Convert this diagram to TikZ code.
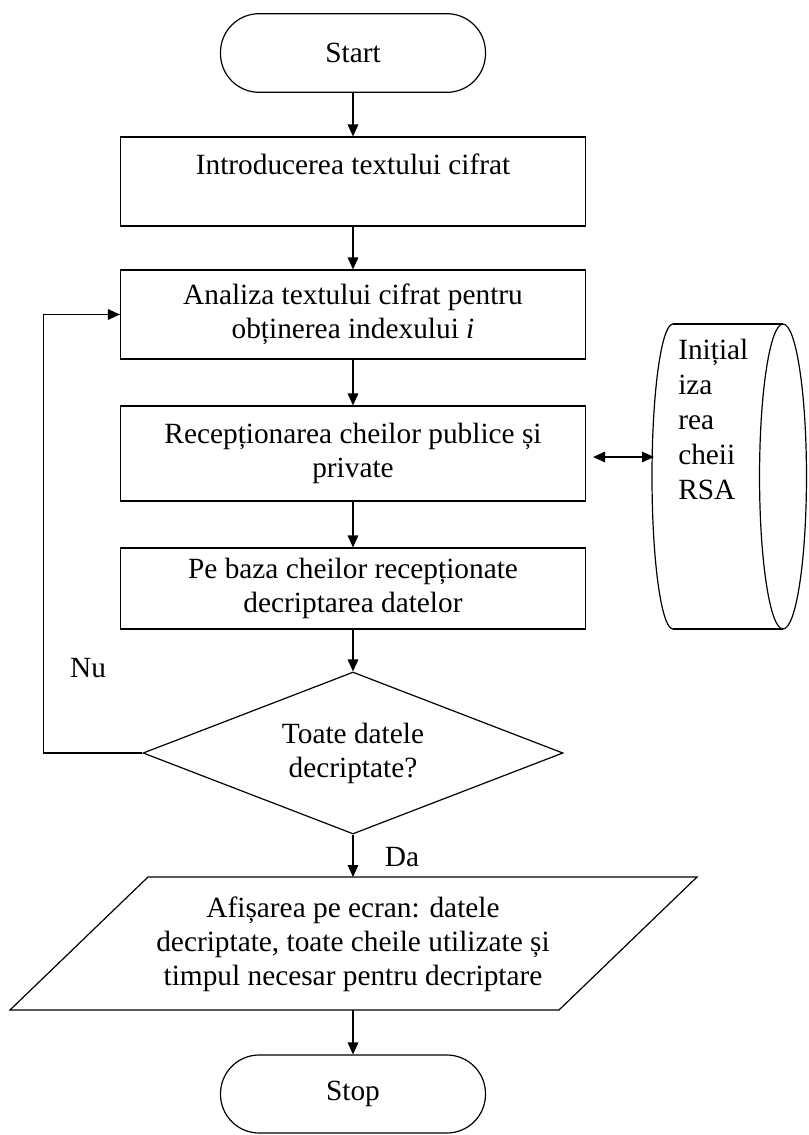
\documentclass[tikz,border=0pt]{standalone}
\usepackage{fontspec}
\setmainfont{Liberation Serif}
\usetikzlibrary{arrows.meta,shapes.geometric}
\begin{document}
\begin{tikzpicture}[x=0.75pt,y=-0.75pt,
  every node/.style={font=\fontsize{22}{25.5}\selectfont},
  ln/.style={line width=0.9pt, draw=black},
  arr/.style={ln, -{Triangle[length=9pt,width=8pt]}},
  darr/.style={ln, {Triangle[length=9pt,width=8pt]}-{Triangle[length=9pt,width=8pt]}},
  procbox/.style={draw, line width=0.9pt, rectangle, minimum width=348.75pt, align=center, inner sep=0pt},
  term/.style={draw, line width=0.9pt, rectangle, rounded corners=29pt, minimum width=198.75pt, minimum height=59pt},
  decision/.style={draw, line width=0.9pt, diamond, minimum width=315pt, minimum height=121.5pt, aspect=2.6, inner sep=0pt, align=center},
  lbl/.style={inner sep=0pt}]
\useasboundingbox (0,0) rectangle (808,1135);

% terminals and process boxes
\node[term] (start) at (353,53) {Start};
\node[procbox, minimum height=66.75pt] (b1) at (353,181.5) {Introducerea textului cifrat\\ \mbox{}};
\node[procbox, minimum height=66.75pt] (b2) at (353,314.5) {Analiza textului cifrat pentru\\ obținerea indexului \textit{i}};
\node[procbox, minimum height=71.25pt] (b3) at (353,453.5) {Recepționarea cheilor publice și\\ private};
\node[procbox, minimum height=60.75pt] (b4) at (353,588.5) {Pe baza cheilor recepționate\\ decriptarea datelor};
\node[decision] (dec) at (353,753) {Toate datele\\ decriptate?};

% parallelogram (output)
\coordinate (ptop) at (353,877);
\coordinate (pbot) at (353,1010);
\draw[ln] (148,877) -- (697,877) -- (559,1010) -- (10,1010) -- cycle;
\node[align=center, inner sep=0pt] (out) at (353,944) {Afișarea pe ecran: datele\\ decriptate, toate cheile utilizate și\\ timpul necesar pentru decriptare};

\node[term, minimum height=58.5pt] (stop) at (353,1094) {Stop};

% storage cylinder
\draw[ln] (673,324) -- (783,324);
\draw[ln] (673,629) -- (783,629);
\draw[ln] (673,324) arc[start angle=90, end angle=270, x radius=15.75pt, y radius=114.375pt];
\draw[ln] (783,476.5) ellipse[x radius=17.6pt, y radius=114.375pt];
\node[anchor=north west, align=left, inner sep=0pt, font=\fontsize{22}{26.25}\selectfont] (rsa) at (678,339) {Inițial\\iza\\rea\\cheii\\RSA};
\coordinate (cylL) at (654,457);

% labels
\node[lbl] (nu) at (88,668) {Nu};
\node[lbl] (da) at (402,857) {Da};

% connectors
\draw[arr] (start.south) -- (b1.north);
\draw[arr] (b1.south) -- (b2.north);
\draw[arr] (b2.south) -- (b3.north);
\draw[arr] (b3.south) -- (b4.north);
\draw[arr] (b4.south) -- (dec.north);
\draw[arr] (dec.south) -- (ptop);
\draw[arr] (pbot) -- (stop.north);
\draw[arr] (dec.west) -- ++(-99,0) |- (b2.west);
\draw[darr] ([xshift=5.25pt]b3.east |- cylL) -- (cylL);
\end{tikzpicture}
\end{document}
